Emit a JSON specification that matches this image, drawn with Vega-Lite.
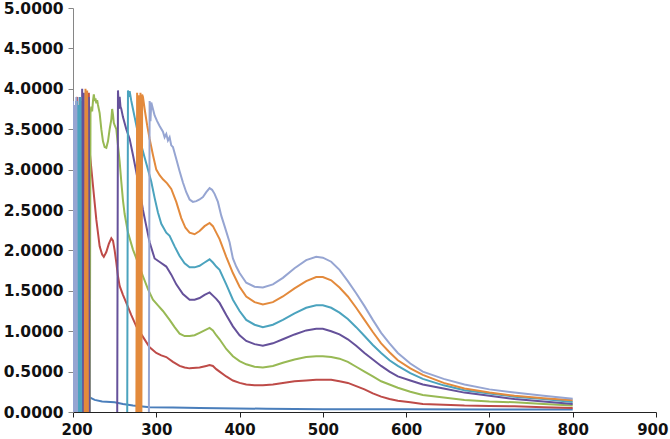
{
"$schema": "https://vega.github.io/schema/vega-lite/v6.json",
"width": 583, "height": 404,
"autosize": {"type": "none"},
"padding": {"left": 73, "top": 8, "right": 14, "bottom": 27},
"background": "white",
"config": {"view": {"stroke": null}, "axis": {"grid": false}},
"data": {"values": [
{"s":"Series1","x":200,"y":3.8},{"s":"Series1","x":201,"y":-0.5},{"s":"Series1","x":202,"y":3.75},{"s":"Series1","x":203,"y":-0.5},{"s":"Series1","x":204,"y":3.85},{"s":"Series1","x":205,"y":-0.5},{"s":"Series1","x":206,"y":3.8},{"s":"Series1","x":207,"y":-0.5},{"s":"Series1","x":208,"y":3.9},{"s":"Series1","x":209,"y":-0.5},{"s":"Series1","x":210,"y":3.85},{"s":"Series1","x":211,"y":-0.5},{"s":"Series1","x":212,"y":3.8},{"s":"Series1","x":213,"y":0.3},{"s":"Series1","x":214,"y":0.26},{"s":"Series1","x":216,"y":0.22},{"s":"Series1","x":220,"y":0.18},{"s":"Series1","x":226,"y":0.15},{"s":"Series1","x":235,"y":0.13},{"s":"Series1","x":250,"y":0.12},{"s":"Series1","x":260,"y":0.1},{"s":"Series1","x":272,"y":0.08},{"s":"Series1","x":292,"y":0.06},{"s":"Series1","x":320,"y":0.055},{"s":"Series1","x":352,"y":0.05},{"s":"Series1","x":432,"y":0.04},{"s":"Series1","x":500,"y":0.035},{"s":"Series1","x":600,"y":0.033},{"s":"Series1","x":700,"y":0.03},{"s":"Series1","x":800,"y":0.03},

{"s":"Series2","x":200,"y":-0.5},{"s":"Series2","x":205,"y":3.9},{"s":"Series2","x":206,"y":-0.5},{"s":"Series2","x":216,"y":-0.5},{"s":"Series2","x":217,"y":3.95},{"s":"Series2","x":218,"y":-0.5},{"s":"Series2","x":219,"y":3.95},{"s":"Series2","x":220,"y":3.23},{"s":"Series2","x":224,"y":2.8},{"s":"Series2","x":228,"y":2.38},{"s":"Series2","x":232,"y":2.05},{"s":"Series2","x":235,"y":1.95},{"s":"Series2","x":237,"y":1.92},{"s":"Series2","x":240,"y":1.98},{"s":"Series2","x":243,"y":2.08},{"s":"Series2","x":246,"y":2.15},{"s":"Series2","x":248,"y":2.12},{"s":"Series2","x":250,"y":2.0},{"s":"Series2","x":252,"y":1.85},{"s":"Series2","x":254,"y":1.68},{"s":"Series2","x":256,"y":1.56},{"s":"Series2","x":260,"y":1.45},{"s":"Series2","x":264,"y":1.35},{"s":"Series2","x":270,"y":1.2},{"s":"Series2","x":276,"y":1.06},{"s":"Series2","x":284,"y":0.93},{"s":"Series2","x":292,"y":0.8},{"s":"Series2","x":300,"y":0.73},{"s":"Series2","x":306,"y":0.7},{"s":"Series2","x":312,"y":0.68},{"s":"Series2","x":320,"y":0.62},{"s":"Series2","x":328,"y":0.57},{"s":"Series2","x":334,"y":0.55},{"s":"Series2","x":340,"y":0.54},{"s":"Series2","x":352,"y":0.55},{"s":"Series2","x":360,"y":0.57},{"s":"Series2","x":364,"y":0.58},{"s":"Series2","x":368,"y":0.57},{"s":"Series2","x":372,"y":0.53},{"s":"Series2","x":376,"y":0.5},{"s":"Series2","x":384,"y":0.44},{"s":"Series2","x":392,"y":0.39},{"s":"Series2","x":400,"y":0.36},{"s":"Series2","x":408,"y":0.34},{"s":"Series2","x":418,"y":0.33},{"s":"Series2","x":428,"y":0.33},{"s":"Series2","x":440,"y":0.34},{"s":"Series2","x":452,"y":0.36},{"s":"Series2","x":466,"y":0.38},{"s":"Series2","x":480,"y":0.39},{"s":"Series2","x":492,"y":0.4},{"s":"Series2","x":500,"y":0.4},{"s":"Series2","x":510,"y":0.4},{"s":"Series2","x":520,"y":0.38},{"s":"Series2","x":530,"y":0.36},{"s":"Series2","x":540,"y":0.32},{"s":"Series2","x":550,"y":0.28},{"s":"Series2","x":560,"y":0.23},{"s":"Series2","x":570,"y":0.19},{"s":"Series2","x":580,"y":0.16},{"s":"Series2","x":590,"y":0.14},{"s":"Series2","x":605,"y":0.12},{"s":"Series2","x":620,"y":0.1},{"s":"Series2","x":645,"y":0.09},{"s":"Series2","x":670,"y":0.08},{"s":"Series2","x":700,"y":0.075},{"s":"Series2","x":730,"y":0.07},{"s":"Series2","x":765,"y":0.06},{"s":"Series2","x":800,"y":0.05},

{"s":"Series3","x":200,"y":-0.5},{"s":"Series3","x":201,"y":3.8},{"s":"Series3","x":202,"y":-0.5},{"s":"Series3","x":209,"y":3.85},{"s":"Series3","x":210,"y":-0.5},{"s":"Series3","x":220,"y":-0.5},{"s":"Series3","x":221,"y":3.7},{"s":"Series3","x":222,"y":3.78},{"s":"Series3","x":223,"y":3.72},{"s":"Series3","x":224,"y":3.85},{"s":"Series3","x":225,"y":3.93},{"s":"Series3","x":226,"y":3.85},{"s":"Series3","x":227,"y":3.88},{"s":"Series3","x":228,"y":3.82},{"s":"Series3","x":229,"y":3.86},{"s":"Series3","x":230,"y":3.8},{"s":"Series3","x":232,"y":3.7},{"s":"Series3","x":234,"y":3.5},{"s":"Series3","x":236,"y":3.35},{"s":"Series3","x":238,"y":3.28},{"s":"Series3","x":240,"y":3.27},{"s":"Series3","x":242,"y":3.35},{"s":"Series3","x":244,"y":3.5},{"s":"Series3","x":246,"y":3.62},{"s":"Series3","x":247,"y":3.75},{"s":"Series3","x":248,"y":3.68},{"s":"Series3","x":249,"y":3.58},{"s":"Series3","x":250,"y":3.55},{"s":"Series3","x":252,"y":3.5},{"s":"Series3","x":254,"y":3.3},{"s":"Series3","x":256,"y":3.1},{"s":"Series3","x":258,"y":2.85},{"s":"Series3","x":260,"y":2.62},{"s":"Series3","x":262,"y":2.45},{"s":"Series3","x":266,"y":2.22},{"s":"Series3","x":272,"y":2.01},{"s":"Series3","x":278,"y":1.85},{"s":"Series3","x":284,"y":1.68},{"s":"Series3","x":290,"y":1.52},{"s":"Series3","x":296,"y":1.39},{"s":"Series3","x":302,"y":1.32},{"s":"Series3","x":308,"y":1.25},{"s":"Series3","x":316,"y":1.14},{"s":"Series3","x":322,"y":1.05},{"s":"Series3","x":328,"y":0.97},{"s":"Series3","x":334,"y":0.94},{"s":"Series3","x":340,"y":0.94},{"s":"Series3","x":346,"y":0.95},{"s":"Series3","x":352,"y":0.98},{"s":"Series3","x":358,"y":1.01},{"s":"Series3","x":364,"y":1.04},{"s":"Series3","x":368,"y":1.01},{"s":"Series3","x":372,"y":0.95},{"s":"Series3","x":376,"y":0.9},{"s":"Series3","x":384,"y":0.78},{"s":"Series3","x":392,"y":0.69},{"s":"Series3","x":400,"y":0.63},{"s":"Series3","x":408,"y":0.59},{"s":"Series3","x":418,"y":0.56},{"s":"Series3","x":428,"y":0.55},{"s":"Series3","x":440,"y":0.57},{"s":"Series3","x":452,"y":0.61},{"s":"Series3","x":466,"y":0.65},{"s":"Series3","x":480,"y":0.68},{"s":"Series3","x":492,"y":0.69},{"s":"Series3","x":500,"y":0.69},{"s":"Series3","x":510,"y":0.68},{"s":"Series3","x":520,"y":0.66},{"s":"Series3","x":530,"y":0.62},{"s":"Series3","x":540,"y":0.56},{"s":"Series3","x":550,"y":0.5},{"s":"Series3","x":560,"y":0.44},{"s":"Series3","x":570,"y":0.38},{"s":"Series3","x":580,"y":0.34},{"s":"Series3","x":590,"y":0.3},{"s":"Series3","x":605,"y":0.25},{"s":"Series3","x":620,"y":0.21},{"s":"Series3","x":645,"y":0.18},{"s":"Series3","x":670,"y":0.15},{"s":"Series3","x":700,"y":0.13},{"s":"Series3","x":730,"y":0.12},{"s":"Series3","x":765,"y":0.1},{"s":"Series3","x":800,"y":0.08},

{"s":"Series4","x":200,"y":-0.5},{"s":"Series4","x":204,"y":3.8},{"s":"Series4","x":205,"y":-0.5},{"s":"Series4","x":210,"y":-0.5},{"s":"Series4","x":211,"y":4.0},{"s":"Series4","x":212,"y":-0.5},{"s":"Series4","x":213,"y":3.95},{"s":"Series4","x":214,"y":-0.5},{"s":"Series4","x":218,"y":-0.5},{"s":"Series4","x":219,"y":3.9},{"s":"Series4","x":220,"y":-0.5},{"s":"Series4","x":253,"y":-0.5},{"s":"Series4","x":254,"y":3.98},{"s":"Series4","x":255,"y":3.75},{"s":"Series4","x":256,"y":3.9},{"s":"Series4","x":257,"y":3.78},{"s":"Series4","x":258,"y":3.75},{"s":"Series4","x":260,"y":3.65},{"s":"Series4","x":264,"y":3.5},{"s":"Series4","x":268,"y":3.38},{"s":"Series4","x":272,"y":3.18},{"s":"Series4","x":276,"y":2.97},{"s":"Series4","x":280,"y":2.75},{"s":"Series4","x":284,"y":2.5},{"s":"Series4","x":288,"y":2.3},{"s":"Series4","x":292,"y":2.1},{"s":"Series4","x":298,"y":1.9},{"s":"Series4","x":305,"y":1.85},{"s":"Series4","x":312,"y":1.8},{"s":"Series4","x":318,"y":1.7},{"s":"Series4","x":324,"y":1.58},{"s":"Series4","x":332,"y":1.46},{"s":"Series4","x":340,"y":1.39},{"s":"Series4","x":346,"y":1.39},{"s":"Series4","x":352,"y":1.41},{"s":"Series4","x":358,"y":1.45},{"s":"Series4","x":364,"y":1.48},{"s":"Series4","x":368,"y":1.44},{"s":"Series4","x":372,"y":1.4},{"s":"Series4","x":376,"y":1.35},{"s":"Series4","x":384,"y":1.2},{"s":"Series4","x":392,"y":1.06},{"s":"Series4","x":400,"y":0.95},{"s":"Series4","x":408,"y":0.88},{"s":"Series4","x":418,"y":0.84},{"s":"Series4","x":428,"y":0.82},{"s":"Series4","x":440,"y":0.85},{"s":"Series4","x":452,"y":0.9},{"s":"Series4","x":466,"y":0.96},{"s":"Series4","x":480,"y":1.01},{"s":"Series4","x":492,"y":1.03},{"s":"Series4","x":500,"y":1.03},{"s":"Series4","x":510,"y":1.0},{"s":"Series4","x":520,"y":0.96},{"s":"Series4","x":530,"y":0.9},{"s":"Series4","x":540,"y":0.82},{"s":"Series4","x":550,"y":0.73},{"s":"Series4","x":560,"y":0.65},{"s":"Series4","x":570,"y":0.57},{"s":"Series4","x":580,"y":0.5},{"s":"Series4","x":590,"y":0.44},{"s":"Series4","x":605,"y":0.39},{"s":"Series4","x":620,"y":0.34},{"s":"Series4","x":645,"y":0.29},{"s":"Series4","x":670,"y":0.24},{"s":"Series4","x":700,"y":0.2},{"s":"Series4","x":730,"y":0.16},{"s":"Series4","x":765,"y":0.13},{"s":"Series4","x":800,"y":0.1},

{"s":"Series5","x":200,"y":-0.5},{"s":"Series5","x":203,"y":3.75},{"s":"Series5","x":204,"y":-0.5},{"s":"Series5","x":205,"y":3.85},{"s":"Series5","x":206,"y":-0.5},{"s":"Series5","x":207,"y":3.8},{"s":"Series5","x":208,"y":-0.5},{"s":"Series5","x":209,"y":3.9},{"s":"Series5","x":210,"y":-0.5},{"s":"Series5","x":265,"y":-0.5},{"s":"Series5","x":266,"y":3.98},{"s":"Series5","x":267,"y":3.9},{"s":"Series5","x":268,"y":3.97},{"s":"Series5","x":270,"y":3.85},{"s":"Series5","x":272,"y":3.75},{"s":"Series5","x":274,"y":3.65},{"s":"Series5","x":278,"y":3.45},{"s":"Series5","x":282,"y":3.3},{"s":"Series5","x":286,"y":3.15},{"s":"Series5","x":290,"y":3.0},{"s":"Series5","x":294,"y":2.85},{"s":"Series5","x":298,"y":2.65},{"s":"Series5","x":302,"y":2.47},{"s":"Series5","x":306,"y":2.33},{"s":"Series5","x":312,"y":2.22},{"s":"Series5","x":316,"y":2.18},{"s":"Series5","x":322,"y":2.05},{"s":"Series5","x":328,"y":1.93},{"s":"Series5","x":334,"y":1.84},{"s":"Series5","x":340,"y":1.79},{"s":"Series5","x":346,"y":1.79},{"s":"Series5","x":352,"y":1.81},{"s":"Series5","x":358,"y":1.85},{"s":"Series5","x":364,"y":1.89},{"s":"Series5","x":368,"y":1.85},{"s":"Series5","x":372,"y":1.8},{"s":"Series5","x":376,"y":1.76},{"s":"Series5","x":384,"y":1.58},{"s":"Series5","x":392,"y":1.39},{"s":"Series5","x":400,"y":1.25},{"s":"Series5","x":408,"y":1.14},{"s":"Series5","x":418,"y":1.08},{"s":"Series5","x":428,"y":1.05},{"s":"Series5","x":440,"y":1.08},{"s":"Series5","x":452,"y":1.14},{"s":"Series5","x":466,"y":1.22},{"s":"Series5","x":480,"y":1.29},{"s":"Series5","x":492,"y":1.32},{"s":"Series5","x":500,"y":1.32},{"s":"Series5","x":510,"y":1.29},{"s":"Series5","x":520,"y":1.23},{"s":"Series5","x":530,"y":1.15},{"s":"Series5","x":540,"y":1.05},{"s":"Series5","x":550,"y":0.94},{"s":"Series5","x":560,"y":0.83},{"s":"Series5","x":570,"y":0.73},{"s":"Series5","x":580,"y":0.64},{"s":"Series5","x":590,"y":0.57},{"s":"Series5","x":605,"y":0.48},{"s":"Series5","x":620,"y":0.41},{"s":"Series5","x":645,"y":0.33},{"s":"Series5","x":670,"y":0.27},{"s":"Series5","x":700,"y":0.23},{"s":"Series5","x":730,"y":0.19},{"s":"Series5","x":765,"y":0.16},{"s":"Series5","x":800,"y":0.125},

{"s":"Series6","x":200,"y":-0.5},{"s":"Series6","x":214,"y":-0.5},{"s":"Series6","x":215,"y":4.0},{"s":"Series6","x":216,"y":-0.5},{"s":"Series6","x":217,"y":3.98},{"s":"Series6","x":218,"y":-0.5},{"s":"Series6","x":276,"y":-0.5},{"s":"Series6","x":277,"y":3.95},{"s":"Series6","x":278,"y":-0.5},{"s":"Series6","x":279,"y":3.92},{"s":"Series6","x":280,"y":-0.5},{"s":"Series6","x":281,"y":3.95},{"s":"Series6","x":282,"y":-0.5},{"s":"Series6","x":283,"y":3.93},{"s":"Series6","x":284,"y":3.9},{"s":"Series6","x":286,"y":3.75},{"s":"Series6","x":289,"y":3.55},{"s":"Series6","x":292,"y":3.38},{"s":"Series6","x":296,"y":3.18},{"s":"Series6","x":300,"y":3.0},{"s":"Series6","x":304,"y":2.93},{"s":"Series6","x":308,"y":2.88},{"s":"Series6","x":313,"y":2.83},{"s":"Series6","x":318,"y":2.76},{"s":"Series6","x":324,"y":2.6},{"s":"Series6","x":330,"y":2.4},{"s":"Series6","x":335,"y":2.28},{"s":"Series6","x":340,"y":2.22},{"s":"Series6","x":346,"y":2.2},{"s":"Series6","x":352,"y":2.24},{"s":"Series6","x":358,"y":2.3},{"s":"Series6","x":364,"y":2.34},{"s":"Series6","x":368,"y":2.3},{"s":"Series6","x":372,"y":2.22},{"s":"Series6","x":376,"y":2.14},{"s":"Series6","x":384,"y":1.92},{"s":"Series6","x":392,"y":1.72},{"s":"Series6","x":400,"y":1.55},{"s":"Series6","x":408,"y":1.43},{"s":"Series6","x":418,"y":1.36},{"s":"Series6","x":428,"y":1.33},{"s":"Series6","x":440,"y":1.36},{"s":"Series6","x":452,"y":1.43},{"s":"Series6","x":466,"y":1.53},{"s":"Series6","x":480,"y":1.62},{"s":"Series6","x":492,"y":1.67},{"s":"Series6","x":500,"y":1.67},{"s":"Series6","x":510,"y":1.63},{"s":"Series6","x":520,"y":1.54},{"s":"Series6","x":530,"y":1.43},{"s":"Series6","x":540,"y":1.29},{"s":"Series6","x":550,"y":1.14},{"s":"Series6","x":560,"y":0.99},{"s":"Series6","x":570,"y":0.85},{"s":"Series6","x":580,"y":0.74},{"s":"Series6","x":590,"y":0.64},{"s":"Series6","x":605,"y":0.54},{"s":"Series6","x":620,"y":0.46},{"s":"Series6","x":645,"y":0.36},{"s":"Series6","x":670,"y":0.29},{"s":"Series6","x":700,"y":0.24},{"s":"Series6","x":730,"y":0.2},{"s":"Series6","x":765,"y":0.17},{"s":"Series6","x":800,"y":0.145},

{"s":"Series7","x":200,"y":3.85},{"s":"Series7","x":201,"y":-0.5},{"s":"Series7","x":202,"y":3.8},{"s":"Series7","x":203,"y":-0.5},{"s":"Series7","x":204,"y":3.9},{"s":"Series7","x":205,"y":-0.5},{"s":"Series7","x":291,"y":-0.5},{"s":"Series7","x":292,"y":3.85},{"s":"Series7","x":293,"y":3.6},{"s":"Series7","x":294,"y":3.83},{"s":"Series7","x":296,"y":3.75},{"s":"Series7","x":298,"y":3.67},{"s":"Series7","x":301,"y":3.6},{"s":"Series7","x":304,"y":3.54},{"s":"Series7","x":308,"y":3.47},{"s":"Series7","x":310,"y":3.4},{"s":"Series7","x":312,"y":3.44},{"s":"Series7","x":314,"y":3.36},{"s":"Series7","x":316,"y":3.4},{"s":"Series7","x":318,"y":3.3},{"s":"Series7","x":320,"y":3.28},{"s":"Series7","x":324,"y":3.13},{"s":"Series7","x":328,"y":2.98},{"s":"Series7","x":332,"y":2.84},{"s":"Series7","x":336,"y":2.72},{"s":"Series7","x":340,"y":2.63},{"s":"Series7","x":344,"y":2.6},{"s":"Series7","x":348,"y":2.61},{"s":"Series7","x":352,"y":2.63},{"s":"Series7","x":356,"y":2.66},{"s":"Series7","x":360,"y":2.72},{"s":"Series7","x":364,"y":2.77},{"s":"Series7","x":367,"y":2.75},{"s":"Series7","x":370,"y":2.7},{"s":"Series7","x":374,"y":2.6},{"s":"Series7","x":378,"y":2.43},{"s":"Series7","x":382,"y":2.3},{"s":"Series7","x":388,"y":2.1},{"s":"Series7","x":392,"y":1.9},{"s":"Series7","x":396,"y":1.8},{"s":"Series7","x":400,"y":1.72},{"s":"Series7","x":408,"y":1.6},{"s":"Series7","x":418,"y":1.55},{"s":"Series7","x":428,"y":1.54},{"s":"Series7","x":440,"y":1.58},{"s":"Series7","x":452,"y":1.66},{"s":"Series7","x":466,"y":1.78},{"s":"Series7","x":480,"y":1.88},{"s":"Series7","x":492,"y":1.92},{"s":"Series7","x":500,"y":1.91},{"s":"Series7","x":510,"y":1.86},{"s":"Series7","x":520,"y":1.76},{"s":"Series7","x":530,"y":1.62},{"s":"Series7","x":540,"y":1.47},{"s":"Series7","x":550,"y":1.31},{"s":"Series7","x":560,"y":1.14},{"s":"Series7","x":570,"y":0.98},{"s":"Series7","x":580,"y":0.85},{"s":"Series7","x":590,"y":0.73},{"s":"Series7","x":605,"y":0.6},{"s":"Series7","x":620,"y":0.5},{"s":"Series7","x":645,"y":0.41},{"s":"Series7","x":670,"y":0.34},{"s":"Series7","x":700,"y":0.28},{"s":"Series7","x":730,"y":0.24},{"s":"Series7","x":765,"y":0.2},{"s":"Series7","x":800,"y":0.165}
]},
"mark": {"type": "line", "strokeWidth": 2, "clip": true},
"encoding": {
  "x": {"field": "x", "type": "quantitative",
    "scale": {"domain": [200, 900], "nice": false, "zero": false},
    "axis": {"values": [200, 300, 400, 500, 600, 700, 800, 900], "title": null, "format": "d",
      "labelFont": "DejaVu Sans", "labelFontSize": 15, "labelFontWeight": "bold", "labelColor": "#111111",
      "labelFlush": true, "labelFlushOffset": 12, "labelPadding": 5, "tickSize": 5, "tickColor": "#222222", "domainColor": "#222222", "domainWidth": 1}},
  "y": {"field": "y", "type": "quantitative",
    "scale": {"domain": [0, 5], "nice": false},
    "axis": {"values": [0, 0.5, 1, 1.5, 2, 2.5, 3, 3.5, 4, 4.5, 5], "title": null, "format": ".4f",
      "labelFont": "DejaVu Sans", "labelFontSize": 15.5, "labelFontWeight": "bold", "labelColor": "#111111",
      "labelFlush": false, "labelPadding": 5, "tickSize": 5, "tickColor": "#868686", "domainColor": "#868686"}},
  "color": {"field": "s", "type": "nominal", "legend": null,
    "scale": {"domain": ["Series1", "Series2", "Series3", "Series4", "Series5", "Series6", "Series7"],
      "range": ["#4A7EBB", "#BE4B48", "#98B954", "#65519A", "#4BA3BE", "#E38A3C", "#96A5D2"]}}
}
}
